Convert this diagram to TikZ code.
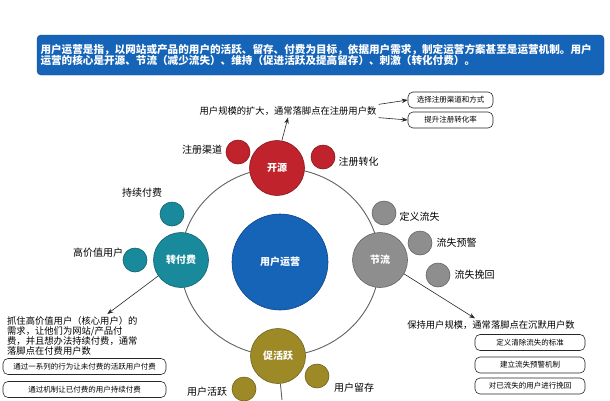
\documentclass[tikz,border=0pt]{standalone}
\usepackage{fontspec}
\setmainfont{Noto Sans CJK SC}
\usepackage{xcolor}
\usetikzlibrary{arrows.meta, positioning, calc}
\definecolor{OpsBlue}{HTML}{1664B8}
\definecolor{SrcRed}{HTML}{C0232B}
\definecolor{KeepGray}{HTML}{8E8E8E}
\definecolor{PayTeal}{HTML}{188A9B}
\definecolor{ActOlive}{HTML}{9D8A27}
\definecolor{LineGray}{HTML}{606060}

\begin{document}
\begin{tikzpicture}[x=1pt, y=-1pt,
    bigdot/.style={circle, draw=#1!70!black, fill=#1, line width=0.6pt,
        minimum size=55pt, inner sep=0pt, text=white,
        font=\bfseries\fontsize{10}{12}\selectfont},
    smalldot/.style={circle, draw=#1!70!black, fill=#1, line width=0.6pt,
        minimum size=24pt, inner sep=0pt},
    tag/.style={font=\fontsize{10}{12}\selectfont, inner sep=1pt},
    note/.style={font=\fontsize{9.3}{10}\selectfont, inner sep=2pt},
    tipbox/.style={draw=black!85, line width=0.6pt, rounded corners=5pt,
        minimum height=16pt, inner sep=1pt, font=\fontsize{7.5}{9}\selectfont},
    pointer/.style={-{Stealth[length=6pt, width=4.5pt]}, line width=0.6pt, black!85},
    ring/.style={line width=0.9pt, LineGray}]
    \useasboundingbox (0,0) rectangle (610,400);

    % Banner
    \node[rectangle, rounded corners=4pt, fill=OpsBlue, draw=OpsBlue!70!black,
          text=white, minimum width=567pt, minimum height=40pt, text width=560pt,
          align=left, inner sep=3pt, font=\bfseries\fontsize{10.6}{11.6}\selectfont]
          (desc) at (320.5,55) {用户运营是指，以网站或产品的用户的活跃、留存、付费为目标，依据用户需求，制定运营方案甚至是运营机制。用户\\运营的核心是开源、节流（减少流失）、维持（促进活跃及提高留存）、刺激（转化付费）。};

    % Ring and core
    \draw[ring] (280,262) ellipse [x radius=99.5, y radius=94];
    \node[circle, fill=OpsBlue, draw=OpsBlue!70!black, line width=0.6pt,
          minimum size=96pt, text=white, font=\bfseries\fontsize{10}{12}\selectfont]
          (core) at (280,262) {用户运营};

    % Four stages
    \node[bigdot=SrcRed] (kaiyuan) at (277,168) {开源};
    \node[bigdot=KeepGray] (jieliu) at (380,260) {节流};
    \node[bigdot=PayTeal] (zhuanfufei) at (181,260) {转付费};
    \node[bigdot=ActOlive] (cuhuoyue) at (278,356) {促活跃};

    % Satellites
    \node[smalldot=SrcRed] (qudao) at (238,152) {};
    \node[smalldot=SrcRed] (zhuanhua) at (323,157) {};
    \node[smalldot=KeepGray] (dingyi) at (384,213) {};
    \node[smalldot=KeepGray] (yujing) at (420,243) {};
    \node[smalldot=KeepGray] (wanhui) at (438,275) {};
    \node[smalldot=PayTeal] (chixu) at (172,214) {};
    \node[smalldot=PayTeal] (gaojiazhi) at (135,260) {};
    \node[smalldot=ActOlive] (huoyue) at (244,389) {};
    \node[smalldot=ActOlive] (liucun) at (317,376) {};

    % Satellite labels
    \node[tag] (qudaotxt) at (202,150) {注册渠道};
    \node[tag, right=2pt of zhuanhua, yshift=-5pt] (zhuanhuatxt) {注册转化};
    \node[tag, right=2pt of dingyi, yshift=-4pt] (dingyitxt) {定义流失};
    \node[tag, right=3pt of yujing] (yujingtxt) {流失预警};
    \node[tag, right=3pt of wanhui] (wanhuitxt) {流失挽回};
    \node[tag] (chixutxt) at (142,193) {持续付费};
    \node[tag] (gaojiazhitxt) at (98,253) {高价值用户};
    \node[tag] (huoyuetxt) at (207,392) {用户活跃};
    \node[tag] (liucuntxt) at (354,388) {用户留存};

    % Notes and tips
    \node[note] (srcnote) at (288,111) {用户规模的扩大，通常落脚点在注册用户数};
    \node[tipbox, minimum width=85pt] (srcbox1) at (450.5,100) {选择注册渠道和方式};
    \node[tipbox, minimum width=85pt] (srcbox2) at (450.5,120) {提升注册转化率};

    \node[note] (keepnote) at (491,325) {保持用户规模，通常落脚点在沉默用户数};
    \node[tipbox, minimum width=110pt] (keepbox1) at (530,342.5) {定义清除流失的标准};
    \node[tipbox, minimum width=110pt] (keepbox2) at (530,365) {建立流失预警机制};
    \node[tipbox, minimum width=110pt] (keepbox3) at (530,386) {对已流失的用户进行挽回};

    \node[note, align=left, anchor=north west] (paynote) at (5,314)
          {抓住高价值用户（核心用户）的\\需求，让他们为网站/产品付\\费，并且想办法持续付费，通常\\落脚点在付费用户数};
    \node[tipbox, minimum width=163pt] (paybox1) at (84.5,366.5) {通过一系列的行为让未付费的活跃用户付费};
    \node[tipbox, minimum width=163pt] (paybox2) at (84.5,389.5) {通过机制让已付费的用户持续付费};

    % Arrows
    \draw[pointer] (kaiyuan.80) -- (srcnote.south);
    \draw[pointer] (srcnote.north east) -- (srcbox1.west);
    \draw[pointer] (srcnote.south east) -- (srcbox2.west);
    \draw[pointer] (jieliu.-30) -- ([xshift=-16pt]keepnote.north);
    \draw[pointer] (zhuanfufei.215) -- ([xshift=35pt]paynote.north);
    \coordinate (actend) at (282,400);
    \draw[ring] (cuhuoyue.-85) -- (actend);
\end{tikzpicture}
\end{document}
